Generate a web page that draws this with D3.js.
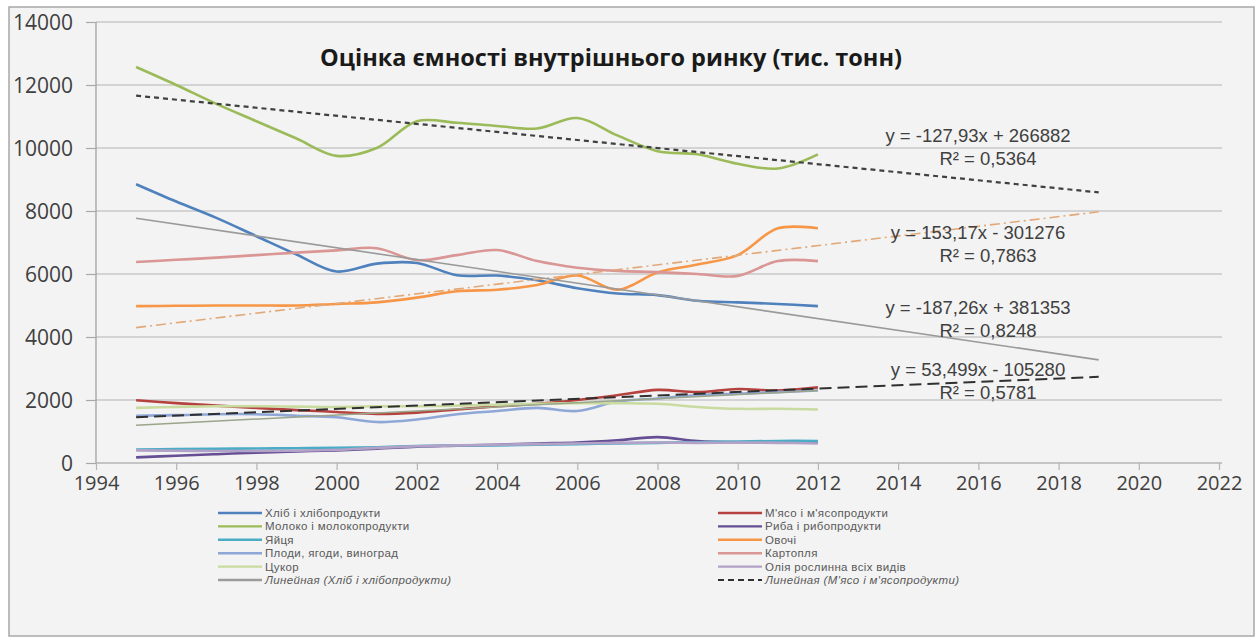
<!DOCTYPE html>
<html><head><meta charset="utf-8">
<script src="https://cdn.jsdelivr.net/npm/d3@7"></script>
<style>
html,body{margin:0;padding:0;background:#fff;}
svg{display:block;}
</style></head>
<body>
<script>
// ---- data ----
const years = [1995,1996,1997,1998,1999,2000,2001,2002,2003,2004,2005,2006,2007,2008,2009,2010,2011,2012];
const bread   = [8850,8300,7780,7200,6620,6080,6330,6350,5960,5950,5800,5550,5380,5330,5150,5100,5050,4980];
const meat    = [1990,1900,1820,1750,1680,1620,1560,1600,1700,1800,1880,2000,2150,2320,2250,2350,2300,2400];
const milk    = [12570,12000,11400,10850,10300,9750,10000,10850,10800,10700,10620,10950,10400,9900,9800,9500,9350,9800];
const fish    = [180,230,280,330,370,400,450,520,550,580,620,650,720,820,700,660,660,660];
const eggs    = [430,440,450,460,470,480,500,540,560,560,580,600,620,640,660,680,700,700];
const vegs    = [4980,4990,5000,5000,5000,5050,5100,5250,5450,5500,5650,5950,5500,6050,6300,6600,7450,7450];
const fruit   = [1500,1520,1550,1550,1500,1450,1300,1380,1550,1650,1750,1650,1950,2050,2150,2200,2250,2300];
const potato  = [6380,6450,6520,6600,6680,6750,6820,6440,6600,6760,6410,6200,6100,6060,6000,5940,6410,6410];
const sugar   = [1750,1780,1800,1800,1790,1780,1800,1800,1820,1850,1880,1900,1900,1880,1780,1720,1720,1700];
const oil     = [400,390,380,380,390,420,480,530,560,580,600,620,640,650,640,650,640,620];
const extraLineYears = [1995,2012];
const extraLine = [1200,2300];

const seriesNames = ["Хліб і хлібопродукти","М'ясо і м'ясопродукти","Молоко і молокопродукти","Риба і рибопродукти","Яйця","Овочі","Плоди, ягоди, виноград","Картопля","Цукор","Олія  рослинна всіх видів"];
const seriesValues = [bread,meat,milk,fish,eggs,vegs,fruit,potato,sugar,oil];
const seriesColors = ["#4F81BD","#B5423F","#9BBB59","#654E93","#4BACC6","#F79646","#8FA7D6","#D99694","#C9DBA0","#B3A2C7"];

// trendlines
const trendNames = ["Молоко","Овочі","Хліб","М'ясо"];
const trendSlopes = [-127.93,153.17,-187.26,53.499];
const trendIntercepts = [266882,-301276,381353,-105280];
const trendRange = [1995,2019];
const trendEq = ["y = -127,93x + 266882","y = 153,17x - 301276","y = -187,26x + 381353","y = 53,499x - 105280"];
const trendR2 = ["R² = 0,5364","R² = 0,7863","R² = 0,8248","R² = 0,5781"];

const xTicks = [1994,1996,1998,2000,2002,2004,2006,2008,2010,2012,2014,2016,2018,2020,2022];
const yTicks = [0,2000,4000,6000,8000,10000,12000,14000];
const title = "Оцінка ємності внутрішнього ринку (тис. тонн)";

// ---- drawing ----
const W = 1256, H = 643;
const svg = d3.select("body").append("svg").attr("width",W).attr("height",H);
svg.append("rect").attr("x",9).attr("y",7).attr("width",1245).attr("height",629)
  .attr("fill","#F3F3F3").attr("stroke","#A8A8A8").attr("stroke-width",1.5);

const x = d3.scaleLinear().domain([1994,2022]).range([96,1219]);
const y = d3.scaleLinear().domain([0,14000]).range([463,22]);
const font = "'Open Sans', 'Liberation Sans', sans-serif";
const font2 = "'Liberation Sans', Arial, sans-serif";

// gridlines
svg.append("g").selectAll("line").data(yTicks.slice(1)).join("line")
  .attr("x1",96).attr("x2",1222).attr("y1",d=>y(d)).attr("y2",d=>y(d))
  .attr("stroke","#C9C9C9").attr("stroke-width",1.5);

// y axis
const ya = svg.append("g").attr("transform","translate(96,0)")
  .call(d3.axisLeft(y).tickValues(yTicks).tickSize(10).tickPadding(13).tickFormat(d=>d));
ya.select(".domain").attr("stroke","#9A9A9A").attr("stroke-width",1.2).attr("d","M0,22V463");
ya.selectAll(".tick line").attr("stroke","#A8A8A8").attr("stroke-width",1.2);
ya.selectAll("text").attr("font-family",font).attr("font-size",21).attr("fill","#404040").attr("dy","0.36em");

// x axis
const xa = svg.append("g").attr("transform","translate(0,463)")
  .call(d3.axisBottom(x).tickValues(xTicks).tickSize(7).tickPadding(6).tickFormat(d=>d));
xa.select(".domain").attr("stroke","#B4B4B4").attr("stroke-width",1.5).attr("d","M96,0H1222");
xa.selectAll(".tick line").attr("stroke","#B4B4B4").attr("stroke-width",1.2);
xa.selectAll("text").attr("font-family",font).attr("font-size",20).attr("fill","#404040");

// series
const lineGen = d3.line().x(d=>x(d[0])).y(d=>y(d[1])).curve(d3.curveCatmullRom.alpha(0.5));
const g = svg.append("g");
seriesValues.forEach((vals,i)=>{
  g.append("path").datum(years.map((yr,j)=>[yr,vals[j]]))
   .attr("d",lineGen).attr("fill","none").attr("stroke",seriesColors[i])
   .attr("stroke-width",2.6).attr("stroke-linejoin","round");
});
// extra thin line
g.append("path").datum(extraLineYears.map((yr,j)=>[yr,extraLine[j]]))
  .attr("d",d3.line().x(d=>x(d[0])).y(d=>y(d[1]))).attr("fill","none")
  .attr("stroke","#9AA58A").attr("stroke-width",1.5);

// trendlines
const trendStyles = [
  {stroke:"#404040",dash:"5,4",w:2.2},
  {stroke:"#E2A878",dash:"10,4,2,4",w:1.6},
  {stroke:"#9A9A9A",dash:null,w:1.6},
  {stroke:"#303030",dash:"12,6",w:2}
];
trendSlopes.forEach((m,i)=>{
  const pts = trendRange.map(t=>[t, m*t + trendIntercepts[i]]);
  const p = svg.append("path").datum(pts).attr("d",d3.line().x(d=>x(d[0])).y(d=>y(d[1])))
    .attr("fill","none").attr("stroke",trendStyles[i].stroke).attr("stroke-width",trendStyles[i].w);
  if(trendStyles[i].dash) p.attr("stroke-dasharray",trendStyles[i].dash);
});

// trend labels
const labelY = [[142,165],[239,262],[314,337],[376,399]];
trendEq.forEach((t,i)=>{
  svg.append("text").attr("x",978).attr("y",labelY[i][0]).attr("text-anchor","middle")
    .attr("font-family",font2).attr("font-size",18.5).attr("fill","#404040").text(t);
  svg.append("text").attr("x",988).attr("y",labelY[i][1]).attr("text-anchor","middle")
    .attr("font-family",font2).attr("font-size",18.5).attr("fill","#404040").text(trendR2[i]);
});

// title
svg.append("text").attr("x",611).attr("y",66).attr("text-anchor","middle")
  .attr("font-family",font).attr("font-weight","bold").attr("font-size",23.5).attr("fill","#1a1a1a").text(title);

// legend
const legItems = [];
seriesNames.forEach((n,i)=>legItems.push({name:n,color:seriesColors[i],dash:null,italic:false}));
legItems.push({name:"Линейная (Хліб і хлібопродукти)",color:"#9A9A9A",dash:null,italic:true});
legItems.push({name:"Линейная (М'ясо і м'ясопродукти)",color:"#303030",dash:"6,4",italic:true});
const lg = svg.append("g");
legItems.forEach((it,i)=>{
  const col = i%2, row = Math.floor(i/2);
  const lx = col===0 ? 218 : 718, ly = 513 + row*13.4;
  const l = lg.append("line").attr("x1",lx).attr("x2",lx+44).attr("y1",ly).attr("y2",ly)
    .attr("stroke",it.color).attr("stroke-width",2.4);
  if(it.dash) l.attr("stroke-dasharray",it.dash).attr("stroke-width",2);
  lg.append("text").attr("x",lx+47).attr("y",ly).attr("dy","0.35em")
    .attr("font-family",font2).attr("font-size",11.5).attr("letter-spacing","0.35px").attr("fill","#595959")
    .attr("font-style",it.italic?"italic":"normal").text(it.name);
});
</script>
</body></html>
